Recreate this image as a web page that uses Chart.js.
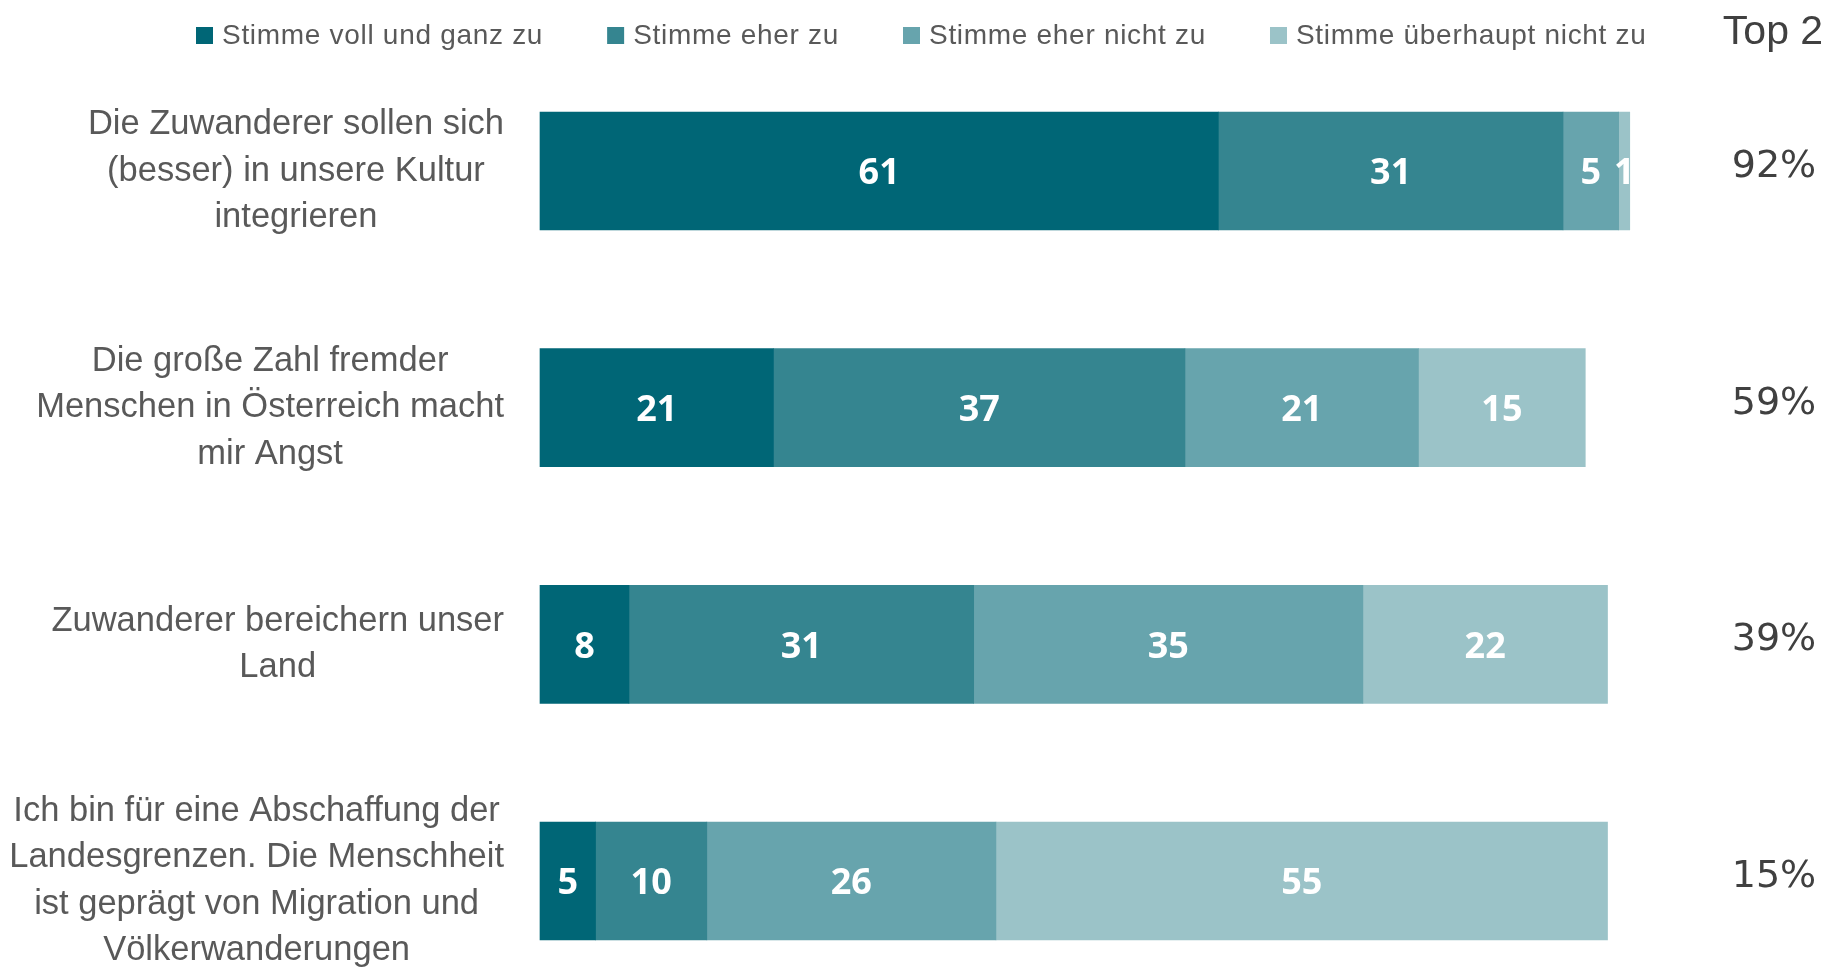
<!DOCTYPE html>
<html><head><meta charset="utf-8">
<script src="https://cdn.jsdelivr.net/npm/chart.js@4.4.1/dist/chart.umd.min.js"></script>
<style>html,body{margin:0;padding:0;background:#fff;}#wrap{width:1832px;height:967px;position:relative;}</style>
</head><body><div id="wrap"><canvas id="c" width="1832" height="967"></canvas></div>
<script>
const categories = [
  ["Die Zuwanderer sollen sich", "(besser) in unsere Kultur", "integrieren"],
  ["Die große Zahl fremder", "Menschen in Österreich macht", "mir Angst"],
  ["Zuwanderer bereichern unser", "Land"],
  ["Ich bin für eine Abschaffung der", "Landesgrenzen. Die Menschheit", "ist geprägt von Migration und", "Völkerwanderungen"]
];
const seriesNames = ["Stimme voll und ganz zu", "Stimme eher zu", "Stimme eher nicht zu", "Stimme überhaupt nicht zu"];
const vollUndGanz = [61, 21, 8, 5];
const eher = [31, 37, 31, 10];
const eherNicht = [5, 21, 35, 26];
const ueberhauptNicht = [1, 15, 22, 55];
const top2Title = "Top 2";
const top2Labels = ["92%", "59%", "39%", "15%"];
const colors = ["#006676", "#358590", "#67A4AD", "#9BC3C8"];

const TEXT = "#595959";

const customDraw = {
  id: 'customDraw',
  afterDatasetsDraw(chart) {
    const ctx = chart.ctx;
    ctx.save();
    ctx.fillStyle = '#ffffff';
    ctx.font = 'bold 36px "Open Sans"';
    ctx.textAlign = 'center';
    ctx.textBaseline = 'middle';
    chart.data.datasets.forEach((ds, di) => {
      const meta = chart.getDatasetMeta(di);
      meta.data.forEach((bar, i) => {
        const cx = (bar.x + bar.base) / 2;
        ctx.fillText(String(ds.data[i]), cx, bar.y + 3);
      });
    });
    ctx.restore();
  },
  afterDraw(chart) {
    const ctx = chart.ctx;
    const yScale = chart.scales.y;
    ctx.save();
    ctx.fillStyle = TEXT;
    ctx.font = '34.5px "Liberation Sans"';
    ctx.textBaseline = 'middle';
    ctx.textAlign = 'center';
    const rightEdge = 504, lh = 46.5;
    categories.forEach((lines, i) => {
      const cy = yScale.getPixelForValue(i);
      const maxW = Math.max(...lines.map(l => ctx.measureText(l).width));
      const cx = rightEdge - maxW / 2;
      const y0 = cy - (lines.length - 1) * lh / 2;
      lines.forEach((l, k) => ctx.fillText(l, cx, y0 + k * lh));
    });
    ctx.font = '38px "DejaVu Sans"';
    ctx.fillStyle = '#404040';
    top2Labels.forEach((t, i) => {
      ctx.fillText(t, 1774, yScale.getPixelForValue(i) - 4);
    });
    ctx.font = '41px "Liberation Sans"';
    ctx.fillText(top2Title, 1773, 33);
    ctx.font = '28px "Liberation Sans"';
    ctx.letterSpacing = '0.7px';
    ctx.textAlign = 'left';
    let x = 196;
    seriesNames.forEach((n, i) => {
      ctx.fillStyle = colors[i];
      ctx.fillRect(x, 27, 17, 17);
      ctx.fillStyle = TEXT;
      ctx.fillText(n, x + 26, 36);
      x += 26 + ctx.measureText(n).width + 64;
    });
    ctx.restore();
  }
};

const datasetsData = [vollUndGanz, eher, eherNicht, ueberhauptNicht];
new Chart(document.getElementById('c'), {
  type: 'bar',
  data: {
    labels: categories.map(c => c.join(' ')),
    datasets: datasetsData.map((d, i) => ({
      label: seriesNames[i],
      data: d,
      backgroundColor: colors[i],
      borderWidth: 0,
      barThickness: 118,
      clip: false
    }))
  },
  options: {
    indexAxis: 'y',
    responsive: false,
    animation: false,
    layout: { padding: { left: 540, right: 180, top: 171, bottom: 86 } },
    plugins: { legend: { display: false }, tooltip: { enabled: false } },
    scales: {
      x: { stacked: true, min: 0, max: 100, display: false },
      y: { stacked: true, display: false, offset: false }
    }
  },
  plugins: [customDraw]
});
</script></body></html>
